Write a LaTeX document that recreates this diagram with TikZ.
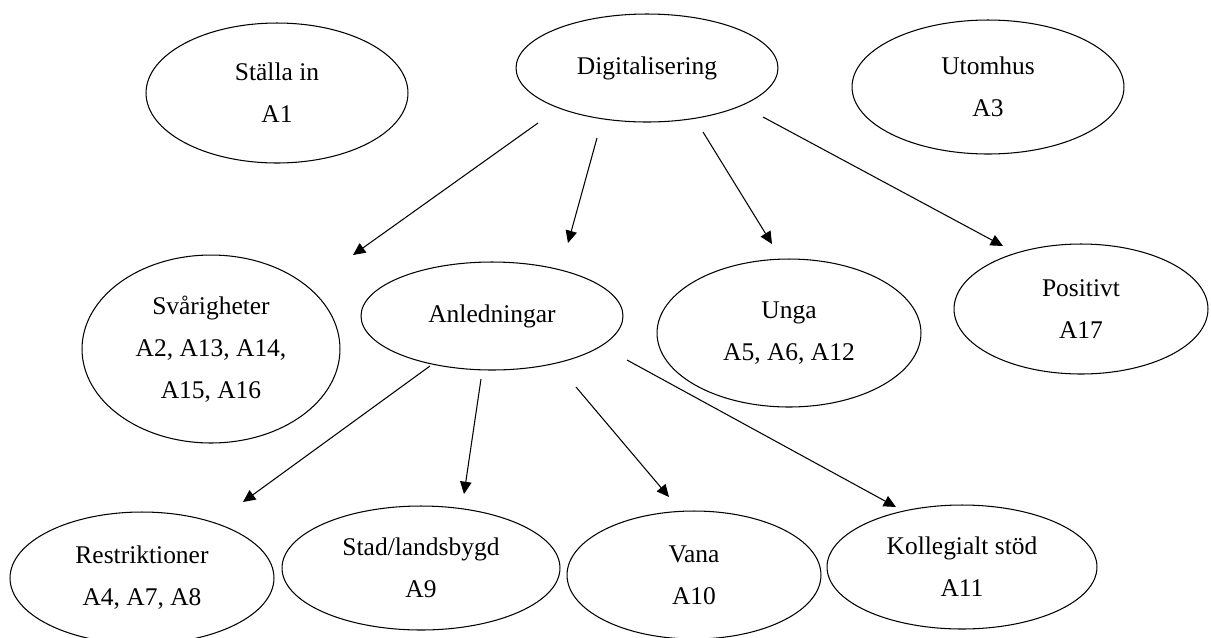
\documentclass[tikz,border=0pt]{standalone}
\usepackage{fontspec}
\setmainfont{Liberation Serif}
\usetikzlibrary{shapes.geometric, arrows.meta}
\tikzset{>={Triangle[length=7pt,width=6.5pt]}}
\tikzset{oval/.style={draw, ellipse, line width=0.6pt, inner sep=0pt, align=center,
    font=\fontsize{14.5}{24}\selectfont}}

\begin{document}
\begin{tikzpicture}[x=0.02cm, y=-0.02cm, line width=0.6pt]
    \useasboundingbox (0,0) rectangle (1211,637);
    % top row
    \node[oval, minimum width=5.24cm, minimum height=2.8cm] (stalla) at (277,93) {Ställa in\\A1};
    \node[oval, minimum width=5.24cm, minimum height=2.16cm] (dig) at (647,68) {Digitalisering};
    \node[oval, minimum width=5.44cm, minimum height=2.68cm] (utom) at (988,87) {Utomhus\\A3};
    % middle row
    \node[oval, minimum width=5.16cm, minimum height=3.76cm] (svar) at (211,349) {Svårigheter\\A2, A13, A14,\\A15, A16};
    \node[oval, minimum width=5.24cm, minimum height=2.16cm] (anl) at (492,316) {Anledningar};
    \node[oval, minimum width=5.28cm, minimum height=2.96cm] (unga) at (789,333) {Unga\\A5, A6, A12};
    \node[oval, minimum width=5.08cm, minimum height=2.6cm] (pos) at (1081,309) {Positivt\\A17};
    % bottom row
    \node[oval, minimum width=5.28cm, minimum height=2.64cm] (restr) at (142,578) {Restriktioner\\A4, A7, A8};
    \node[oval, minimum width=5.56cm, minimum height=2.48cm] (stad) at (421,568) {Stad/landsbygd\\A9};
    \node[oval, minimum width=5.08cm, minimum height=2.56cm] (vana) at (694,575) {Vana\\A10};
    \node[oval, minimum width=5.4cm, minimum height=2.48cm] (koll) at (962,567) {Kollegialt stöd\\A11};
    % arrow ends
    \coordinate (dig-1) at (538,123);
    \coordinate (dig-2) at (597,138);
    \coordinate (dig-3) at (703,132);
    \coordinate (dig-4) at (763,117);
    \coordinate (svar-in) at (353,255);
    \coordinate (anl-in) at (568,243);
    \coordinate (unga-in) at (772,244);
    \coordinate (pos-in) at (1003,246);
    \coordinate (anl-1) at (430,366);
    \coordinate (anl-2) at (481,379);
    \coordinate (anl-3) at (576,387);
    \coordinate (anl-4) at (627,360);
    \coordinate (restr-in) at (243,502);
    \coordinate (stad-in) at (464,494);
    \coordinate (vana-in) at (669,497);
    \coordinate (koll-in) at (896,507);
    \draw[->] (dig-1) -- (svar-in);
    \draw[->] (dig-2) -- (anl-in);
    \draw[->] (dig-3) -- (unga-in);
    \draw[->] (dig-4) -- (pos-in);
    \draw[->] (anl-1) -- (restr-in);
    \draw[->] (anl-2) -- (stad-in);
    \draw[->] (anl-3) -- (vana-in);
    \draw[->] (anl-4) -- (koll-in);
\end{tikzpicture}
\end{document}
